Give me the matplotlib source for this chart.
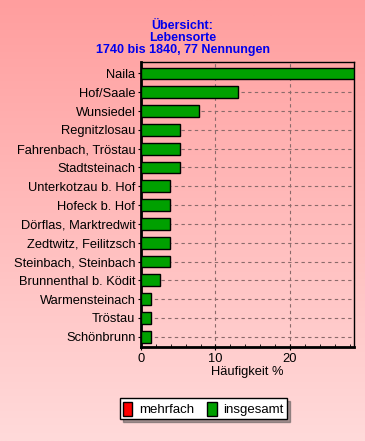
import numpy as np
import matplotlib.pyplot as plt
from matplotlib.patches import Patch

# === Daten ===
orte = ["Naila", "Hof/Saale", "Wunsiedel", "Regnitzlosau", "Fahrenbach, Tröstau",
        "Stadtsteinach", "Unterkotzau b. Hof", "Hofeck b. Hof", "Dörflas, Marktredwit",
        "Zedtwitz, Feilitzsch", "Steinbach, Steinbach", "Brunnenthal b. Ködit",
        "Warmensteinach", "Tröstau", "Schönbrunn"]
insgesamt = [28.57, 12.99, 7.79, 5.19, 5.19, 5.19, 3.90, 3.90, 3.90, 3.90, 3.90,
             2.60, 1.30, 1.30, 1.30]
mehrfach = [0] * len(orte)

titel = "Übersicht:\nLebensorte\n1740 bis 1840, 77 Nennungen"

plt.rcParams['font.family'] = ['Liberation Sans', 'DejaVu Sans']

fig = plt.figure(figsize=(3.65, 4.41), dpi=100)

# === Hintergrund mit Verlauf ===
bg = fig.add_axes([0, 0, 1, 1], zorder=-10)
grad = np.linspace(0, 1, 256).reshape(-1, 1)
top = np.array([255, 158, 158]) / 255
bot = np.array([255, 218, 218]) / 255
img = top + (bot - top) * grad[:, :, None]
bg.imshow(img, aspect='auto', extent=[0, 1, 0, 1])
bg.axis('off')

ax = fig.add_axes([0.386, 0.213, 0.584, 0.646])
ax.patch.set_alpha(0)

y = np.arange(len(orte))
ax.barh(y, insgesamt, height=0.62, color='#00A000', edgecolor='black', linewidth=1, zorder=3)
ax.barh(y, mehrfach, height=0.62, color='#FF0000', edgecolor='black', linewidth=0, zorder=3)

ax.set_yticks(y)
ax.set_yticklabels(orte, fontsize=9.3)
ax.set_ylim(len(orte) - 0.45, -0.6)
ax.set_xlim(0, 28.6)
ax.set_xticks([0, 10, 20])
ax.set_xticks(np.arange(0, 29, 2), minor=True)
ax.tick_params(axis='x', labelsize=9.3, length=4, direction='inout', pad=2)
ax.tick_params(axis='x', which='minor', length=2, direction='in')
ax.tick_params(axis='y', length=4, direction='inout', pad=2)
ax.set_xlabel("Häufigkeit %", fontsize=9.3, labelpad=1)

ax.grid(True, axis='both', linestyle=(0, (3, 3)), color='#8a6a6a', linewidth=0.8, zorder=0)
for s in ['left', 'bottom']:
    ax.spines[s].set_linewidth(2)
for s in ['top', 'right']:
    ax.spines[s].set_linewidth(1)

fig.text(0.5, 0.872, titel, ha='center', va='bottom', color='#0000EE',
         fontsize=9, fontweight='bold', linespacing=1.0)

# === Legende ===
handles = [Patch(facecolor='#FF0000', edgecolor='black', label='mehrfach'),
           Patch(facecolor='#00A000', edgecolor='black', label='insgesamt')]
leg = fig.legend(handles=handles, loc='center', bbox_to_anchor=(0.557, 0.073), ncol=2,
                 fontsize=9.5, frameon=True, fancybox=False, shadow=True,
                 handlelength=0.7, handleheight=1.3, handletextpad=0.5,
                 columnspacing=1.0, borderpad=0.25)
leg.get_frame().set_edgecolor('black')
leg.get_frame().set_facecolor('white')
leg.get_frame().set_alpha(1)

fig.savefig("out.png", dpi=100)
